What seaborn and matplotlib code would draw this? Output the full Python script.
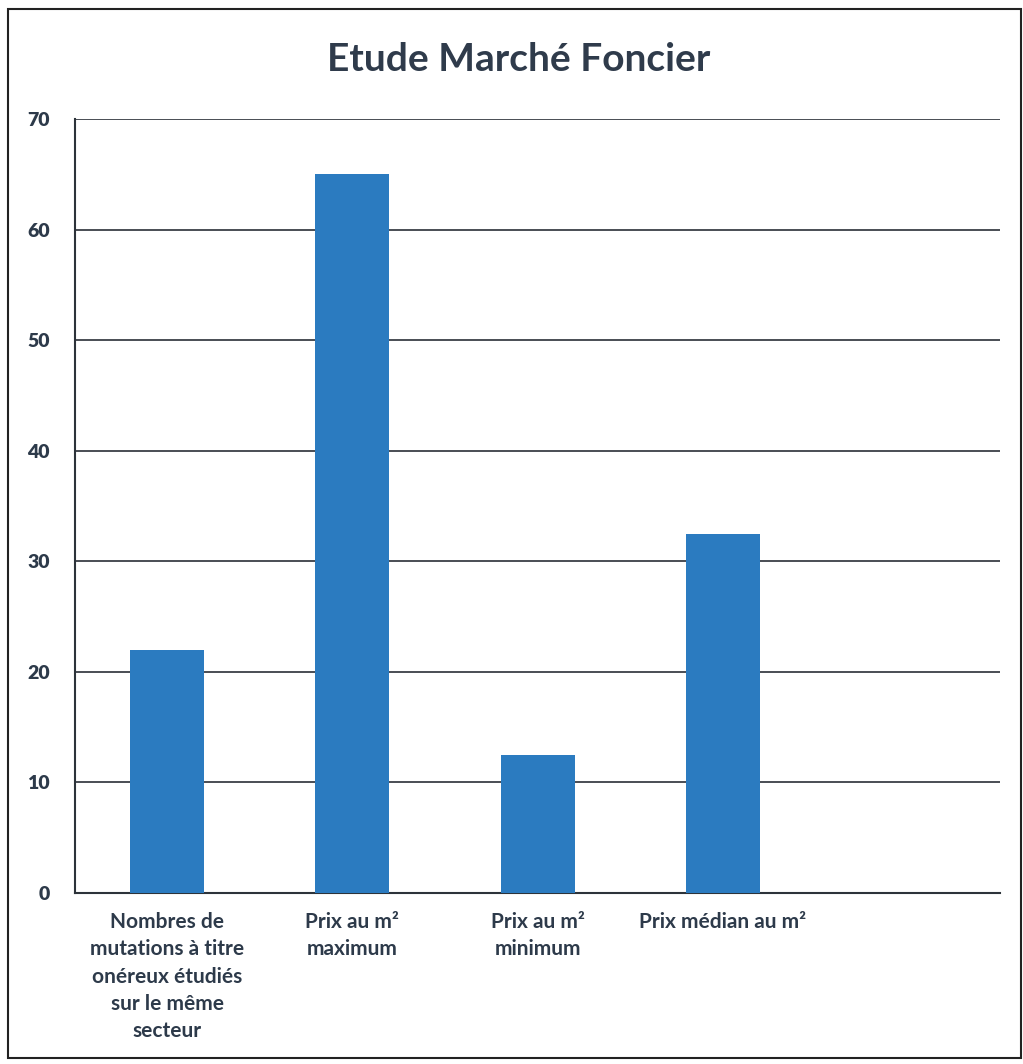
"""Etude Marché Foncier - diagramme en barres."""

import matplotlib.pyplot as plt
import matplotlib.patches as mpatches
import pandas as pd
import seaborn as sns

categories = [
    "Nombres de\nmutations à titre\nonéreux étudiés\nsur le même\nsecteur",
    "Prix au m²\nmaximum",
    "Prix au m²\nminimum",
    "Prix médian au m²",
]
values = [22, 65, 12.5, 32.5]
y_ticks = [0, 10, 20, 30, 40, 50, 60, 70]

sns.set_theme(style="white")
plt.rcParams["font.family"] = ["Lato", "DejaVu Sans"]

data = pd.DataFrame({"categorie": categories, "valeur": values})

fig = plt.figure(figsize=(10.23, 10.64), dpi=100)
axis = fig.add_axes([0.073, 0.161, 0.905, 0.727])

sns.barplot(
    data=data,
    x="categorie",
    y="valeur",
    color="#2b7bc0",
    saturation=1,
    width=0.4,
    linewidth=0,
    ax=axis,
    zorder=3,
)

axis.set_xlim(-0.5, 4.5)
axis.set_ylim(0, 70)
axis.set_yticks(y_ticks)
axis.set_yticklabels([str(t) for t in y_ticks], fontsize=14, fontweight="heavy", color="#2d3a4a")
axis.set_xticks(range(len(categories)))
axis.set_xticklabels(categories, fontsize=15, fontweight="bold", color="#2d3a4a",
                     va="top", linespacing=1.45)
axis.tick_params(axis="y", length=0, pad=18)
axis.tick_params(axis="x", length=0, pad=14)
axis.set_xlabel("")
axis.set_ylabel("")
axis.grid(axis="y", color="#3a3f46", linewidth=1.3, zorder=0)
axis.set_axisbelow(True)
for side in ["top", "right"]:
    axis.spines[side].set_visible(False)
axis.spines["left"].set_color("#2d333a")
axis.spines["left"].set_linewidth(1.5)
axis.spines["bottom"].set_color("#2d333a")
axis.spines["bottom"].set_linewidth(1.5)

fig.text(0.507, 0.944, "Etude Marché Foncier", ha="center", va="center",
         fontsize=28, fontweight="bold", color="#2f3b4b")

# cadre extérieur du graphique
fig.patches.append(mpatches.Rectangle(
    (0.008, 0.006), 0.99, 0.986, transform=fig.transFigure,
    fill=False, edgecolor="#222222", linewidth=1.5,
))

fig.savefig("out.png", dpi=100)
plt.close(fig)
